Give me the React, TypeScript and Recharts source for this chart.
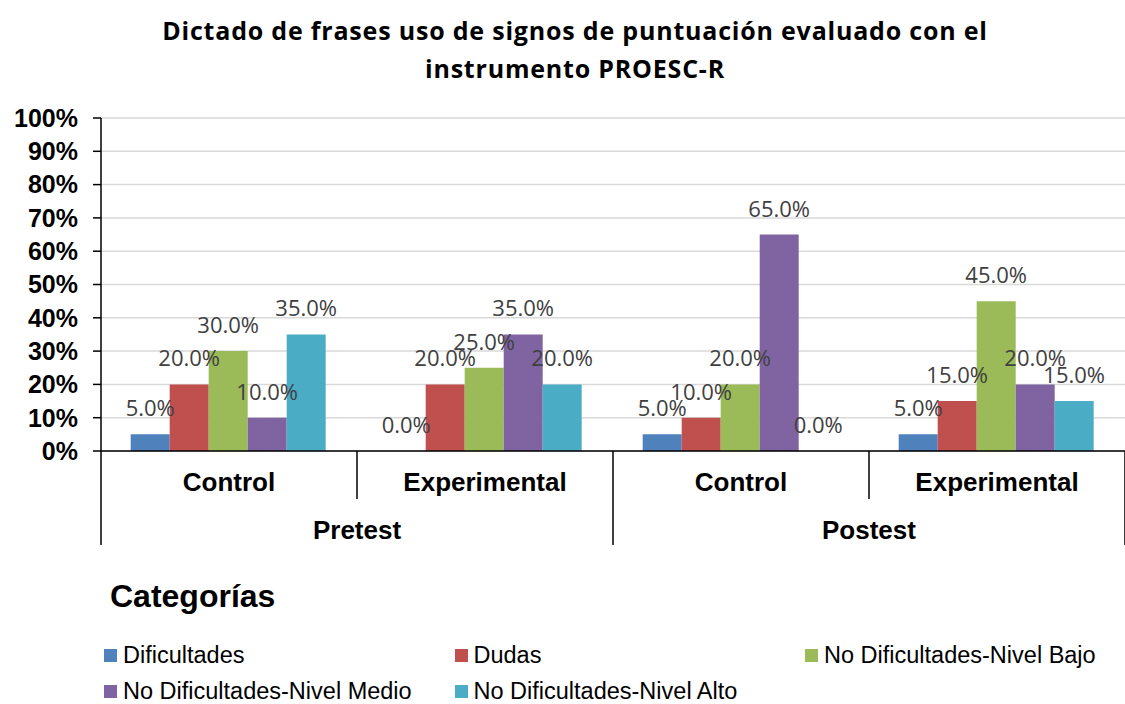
import { Bar, BarChart, CartesianGrid, LabelList, XAxis, YAxis } from "recharts";

const grupos = ["Control", "Experimental", "Control", "Experimental"];
const periodos = ["Pretest", "Pretest", "Postest", "Postest"];

const dificultades = [5, 0, 5, 5];
const dudas = [20, 20, 10, 15];
const nivelBajo = [30, 25, 20, 45];
const nivelMedio = [10, 35, 65, 20];
const nivelAlto = [35, 20, 0, 15];

const yTicks = [0, 10, 20, 30, 40, 50, 60, 70, 80, 90, 100];

const series = [
  { key: "dificultades", name: "Dificultades", color: "#4F81BD", values: dificultades },
  { key: "dudas", name: "Dudas", color: "#C0504D", values: dudas },
  { key: "nivelBajo", name: "No Dificultades-Nivel Bajo", color: "#9BBB59", values: nivelBajo },
  { key: "nivelMedio", name: "No Dificultades-Nivel Medio", color: "#8064A2", values: nivelMedio },
  { key: "nivelAlto", name: "No Dificultades-Nivel Alto", color: "#4BACC6", values: nivelAlto },
];

const data = grupos.map((grupo, i) => {
  const row: Record<string, any> = { grupo, periodo: periodos[i] };
  for (const s of series) row[s.key] = s.values[i];
  return row;
});

const axisFont = { fontSize: 26, fontWeight: "bold", fill: "#000" };

// category label + separators + period label under every other category
function CategoryTick(props: any) {
  const { x, y, payload, index, width } = props;
  const band = (Number(width) || 1024) / grupos.length;
  const firstOfPeriod = index === 0 || periodos[index] !== periodos[index - 1];
  const last = index === grupos.length - 1;
  return (
    <g>
      <text x={x} y={y + 40} textAnchor="middle" {...axisFont}>
        {payload.value}
      </text>
      <line
        x1={x - band / 2}
        x2={x - band / 2}
        y1={y}
        y2={y + (firstOfPeriod ? 94 : 48)}
        stroke="#000"
        strokeWidth={1.5}
      />
      {firstOfPeriod && (
        <text x={x + band / 2} y={y + 88} textAnchor="middle" {...axisFont}>
          {periodos[index]}
        </text>
      )}
      {last && (
        <line x1={x + band / 2} x2={x + band / 2} y1={y} y2={y + 94} stroke="#000" strokeWidth={1.5} />
      )}
    </g>
  );
}

// value label drawn for every bar, zero-height ones included
function ValueLabel(props: any) {
  const { x, y, width, value } = props;
  if (value == null) return null;
  return (
    <text
      x={Number(x) + Number(width) / 2}
      y={Number(y) - 18}
      textAnchor="middle"
      fill="#404040"
      fontSize={22}
      fontFamily="'Open Sans', sans-serif"
    >
      {`${Number(value).toFixed(1)}%`}
    </text>
  );
}

export default function App() {
  return (
    <div
      style={{
        position: "absolute",
        left: 0,
        top: 0,
        width: 1125,
        height: 704,
        background: "#fff",
        overflow: "hidden",
        fontFamily: "'Liberation Sans', Arial, sans-serif",
      }}
    >
      <div
        style={{
          position: "absolute",
          left: 25,
          top: 11,
          width: 1100,
          textAlign: "center",
          fontFamily: "'Open Sans', sans-serif",
          fontWeight: "bold",
          fontSize: 25,
          letterSpacing: 0.8,
          lineHeight: "38px",
          color: "#000",
        }}
      >
        Dictado de frases uso de signos de puntuación evaluado con el
        <br />
        instrumento PROESC-R
      </div>

      <div style={{ position: "absolute", left: 0, top: 0 }}>
        <BarChart
          width={1125}
          height={560}
          data={data}
          margin={{ top: 118, right: 0, bottom: 0, left: 0 }}
          barCategoryGap="11.6%"
          barGap={0}
        >
          <CartesianGrid vertical={false} stroke="#d9d9d9" strokeWidth={1.5} />
          <YAxis
            width={101}
            domain={[0, 100]}
            ticks={yTicks}
            interval={0}
            tickFormatter={(v) => `${v}%`}
            tick={{ fontSize: 25, fontWeight: "bold", fill: "#000" }}
            tickLine={{ stroke: "#000", strokeWidth: 1.5 }}
            axisLine={{ stroke: "#000", strokeWidth: 1.5 }}
            tickSize={8}
            tickMargin={15}
          />
          <XAxis
            dataKey="grupo"
            height={109}
            interval={0}
            tickSize={0}
            tickMargin={0}
            tickLine={false}
            axisLine={{ stroke: "#000", strokeWidth: 1.5 }}
            tick={<CategoryTick />}
          />
          {series.map((s) => (
            <Bar
              key={s.key}
              dataKey={s.key}
              name={s.name}
              fill={s.color}
              minPointSize={0.01}
              isAnimationActive={false}
            >
              <LabelList dataKey={s.key} content={<ValueLabel />} />
            </Bar>
          ))}
        </BarChart>
      </div>

      <div
        style={{
          position: "absolute",
          left: 110,
          top: 581,
          fontSize: 32,
          lineHeight: "31px",
          fontWeight: "bold",
          color: "#000",
        }}
      >
        Categorías
      </div>

      <div
        style={{
          position: "absolute",
          left: 104,
          top: 644,
          width: 1060,
          display: "flex",
          flexWrap: "wrap",
          rowGap: 14,
          fontSize: 23.5,
          lineHeight: "22px",
          color: "#000",
        }}
      >
        {series.map((s) => (
          <div key={s.key} style={{ width: 350.5, display: "flex", alignItems: "center" }}>
            <span
              style={{
                display: "inline-block",
                width: 13,
                height: 13,
                background: s.color,
                marginRight: 6,
                marginTop: 1,
              }}
            />
            <span style={{ whiteSpace: "nowrap" }}>{s.name}</span>
          </div>
        ))}
      </div>
    </div>
  );
}
